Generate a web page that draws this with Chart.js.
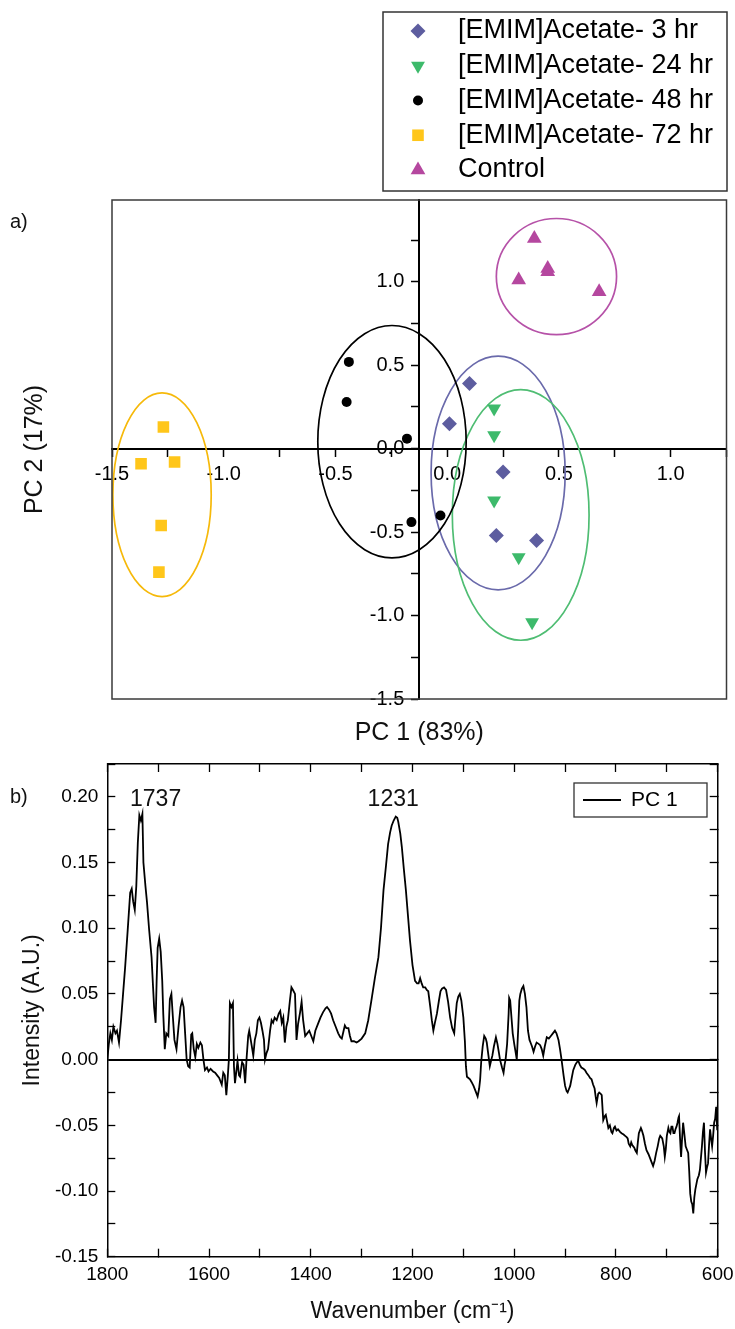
<!DOCTYPE html>
<html>
<head>
<meta charset="utf-8">
<script src="https://cdn.jsdelivr.net/npm/chart.js@4.4.1/dist/chart.umd.min.js"></script>
<style>
html, body { margin: 0; padding: 0; background: #ffffff; }
#wrap { position: relative; width: 735px; height: 1329px; overflow: hidden; }
canvas { position: absolute; left: 0; }
#pca { top: 0; }
#spec { top: 750px; }
</style>
</head>
<body>
<div id="wrap">
  <canvas id="pca" width="735" height="750"></canvas>
  <canvas id="spec" width="735" height="579"></canvas>
</div>
<script>
// ---------------- Panel a) PCA scores ----------------
const groupLabels = ['[EMIM]Acetate- 3 hr', '[EMIM]Acetate- 24 hr', '[EMIM]Acetate- 48 hr', '[EMIM]Acetate- 72 hr', 'Control'];

const pc1_3hr  = [0.10, 0.01, 0.25, 0.22, 0.40];
const pc2_3hr  = [0.39, 0.15, -0.14, -0.52, -0.55];
const pc1_24hr = [0.21, 0.21, 0.21, 0.32, 0.38];
const pc2_24hr = [0.24, 0.08, -0.31, -0.65, -1.04];
const pc1_48hr = [-0.44, -0.45, -0.18, -0.16, -0.03];
const pc2_48hr = [0.52, 0.28, 0.06, -0.44, -0.40];
const pc1_72hr = [-1.27, -1.37, -1.22, -1.28, -1.29];
const pc2_72hr = [0.13, -0.09, -0.08, -0.46, -0.74];
const pc1_ctrl = [0.39, 0.32, 0.45, 0.45, 0.68];
const pc2_ctrl = [1.26, 1.01, 1.08, 1.06, 0.94];

// confidence ellipses (data units), same group order
const ellipseCenterPC1 = [0.228, 0.329, -0.247, -1.276, 0.489];
const ellipseCenterPC2 = [-0.146, -0.397, 0.042, -0.276, 1.031];
const ellipseHalfPC1   = [0.300, 0.306, 0.332, 0.220, 0.269];
const ellipseHalfPC2   = [0.700, 0.751, 0.696, 0.610, 0.348];

// ---------------- Panel b) PC 1 loading ----------------
const wavenumbers = [
  1800,1797,1794,1791,1788,1784,1781,1777,1773,1769,
  1765,1760,1755,1752,1749,1746,1743,1740,1737,1734,
  1731,1729,1725,1722,1718,1713,1710,1708,1705,1703,
  1701,1698,1695,1692,1690,1687,1684,1680,1677,1674,
  1671,1668,1664,1660,1656,1653,1650,1647,1644,1641,
  1638,1635,1633,1630,1627,1624,1621,1617,1614,1611,
  1608,1604,1601,1597,1592,1588,1584,1580,1577,1575,
  1572,1569,1566,1563,1561,1559,1556,1553,1551,1549,
  1546,1544,1541,1539,1535,1532,1529,1526,1523,1521,
  1518,1515,1513,1510,1507,1504,1501,1498,1495,1492,
  1490,1487,1484,1480,1477,1474,1471,1467,1463,1460,
  1457,1454,1451,1448,1445,1441,1438,1435,1431,1428,
  1425,1421,1418,1415,1411,1407,1403,1399,1395,1391,
  1386,1381,1376,1371,1368,1364,1360,1356,1351,1346,
  1342,1339,1336,1333,1330,1326,1323,1320,1315,1310,
  1306,1300,1293,1287,1280,1274,1267,1262,1257,1252,
  1248,1244,1241,1237,1233,1230,1228,1224,1221,1217,
  1213,1209,1205,1200,1195,1191,1188,1185,1182,1179,
  1175,1172,1169,1165,1162,1159,1156,1152,1148,1145,
  1142,1138,1134,1130,1126,1122,1118,1116,1113,1110,
  1107,1104,1100,1097,1095,1093,1090,1087,1084,1080,
  1076,1072,1069,1067,1065,1062,1059,1056,1054,1051,
  1048,1045,1043,1040,1036,1033,1030,1028,1024,1021,
  1019,1017,1014,1011,1010,1008,1005,1003,1000,997,
  995,992,990,988,985,982,979,976,973,970,
  968,965,962,959,956,952,949,946,943,940,
  936,932,928,924,920,917,913,910,907,903,
  900,897,895,892,890,887,884,880,877,874,
  871,868,864,861,858,854,851,848,845,842,
  840,838,835,833,830,828,826,825,822,820,
  817,815,812,809,807,804,802,799,796,792,
  789,785,782,779,777,775,772,770,768,766,
  764,762,759,757,755,753,751,749,746,743,
  740,736,733,730,727,724,721,718,715,713,
  711,709,706,704,702,700,697,695,693,691,
  689,687,685,683,681,679,677,676,674,672,
  670,668,666,663,661,658,656,654,652,650,
  648,646,644,642,640,637,635,633,631,629,
  627,625,623,621,619,617,615,613,611,609,
  607,605,603,601,600
];
const pc1Loading = [
  0.000,0.012,0.020,0.015,0.025,0.020,0.022,0.013,0.030,0.050,
  0.070,0.098,0.127,0.130,0.120,0.114,0.132,0.165,0.186,0.182,
  0.187,0.150,0.132,0.120,0.100,0.078,0.055,0.040,0.028,0.060,
  0.085,0.092,0.082,0.060,0.035,0.008,0.020,0.018,0.046,0.050,
  0.032,0.015,0.008,0.025,0.040,0.045,0.040,0.020,0.000,-0.005,
  -0.006,0.019,0.020,0.008,0.002,0.012,0.009,0.013,0.011,0.000,
  -0.008,-0.006,-0.009,-0.007,-0.009,-0.010,-0.012,-0.014,-0.017,-0.019,
  -0.010,-0.012,-0.027,-0.012,0.000,0.043,0.040,0.043,-0.005,-0.018,
  -0.008,-0.001,-0.012,-0.013,-0.002,-0.004,-0.018,0.002,0.018,0.022,
  0.015,0.008,0.003,0.015,0.020,0.030,0.032,0.028,0.022,0.015,
  0.000,0.005,0.008,0.022,0.030,0.028,0.032,0.030,0.035,0.037,
  0.028,0.032,0.013,0.025,0.030,0.045,0.055,0.053,0.050,0.015,
  0.027,0.036,0.044,0.030,0.018,0.020,0.022,0.018,0.014,0.022,
  0.027,0.032,0.036,0.039,0.040,0.038,0.035,0.030,0.025,0.020,
  0.017,0.016,0.021,0.026,0.024,0.024,0.018,0.014,0.014,0.013,
  0.014,0.016,0.020,0.030,0.047,0.062,0.078,0.100,0.129,0.148,
  0.164,0.173,0.178,0.182,0.185,0.184,0.181,0.172,0.162,0.145,
  0.129,0.110,0.091,0.072,0.060,0.058,0.058,0.062,0.058,0.055,
  0.055,0.053,0.052,0.040,0.030,0.022,0.028,0.035,0.045,0.052,
  0.054,0.055,0.053,0.044,0.032,0.024,0.020,0.030,0.043,0.048,
  0.050,0.045,0.032,0.014,-0.005,-0.013,-0.014,-0.015,-0.017,-0.020,
  -0.024,-0.028,-0.022,-0.015,-0.002,0.010,0.018,0.016,0.013,0.004,
  -0.005,0.000,0.003,0.010,0.017,0.012,0.005,0.000,-0.006,-0.010,
  -0.004,0.000,0.012,0.035,0.047,0.045,0.030,0.020,0.012,0.005,
  0.000,0.025,0.045,0.050,0.054,0.056,0.050,0.040,0.022,0.015,
  0.013,0.010,0.006,0.010,0.013,0.012,0.011,0.008,0.003,0.010,
  0.017,0.016,0.018,0.020,0.022,0.020,0.015,0.008,0.000,-0.012,
  -0.020,-0.024,-0.025,-0.022,-0.020,-0.014,-0.008,-0.004,-0.002,-0.001,
  -0.004,-0.006,-0.007,-0.008,-0.010,-0.012,-0.014,-0.015,-0.019,-0.022,
  -0.028,-0.033,-0.026,-0.025,-0.026,-0.027,-0.040,-0.046,-0.043,-0.042,
  -0.048,-0.052,-0.050,-0.055,-0.056,-0.052,-0.051,-0.054,-0.053,-0.055,
  -0.056,-0.057,-0.058,-0.059,-0.060,-0.064,-0.066,-0.063,-0.065,-0.066,
  -0.067,-0.069,-0.071,-0.063,-0.056,-0.054,-0.052,-0.054,-0.058,-0.064,
  -0.069,-0.072,-0.075,-0.078,-0.081,-0.077,-0.071,-0.066,-0.060,-0.058,
  -0.059,-0.060,-0.066,-0.074,-0.068,-0.058,-0.052,-0.055,-0.056,-0.051,
  -0.051,-0.056,-0.056,-0.053,-0.051,-0.048,-0.044,-0.043,-0.060,-0.074,
  -0.060,-0.048,-0.055,-0.066,-0.068,-0.071,-0.085,-0.102,-0.108,-0.110,
  -0.117,-0.105,-0.099,-0.095,-0.091,-0.088,-0.084,-0.075,-0.066,-0.055,
  -0.048,-0.070,-0.086,-0.082,-0.079,-0.065,-0.053,-0.060,-0.066,-0.058,
  -0.048,-0.045,-0.036,-0.053,-0.035
];
const spectrumLabel = 'PC 1';
const peakTexts = ['1737', '1231'];

// ---------------- styling ----------------
const FONT = '"Liberation Sans", Arial, Helvetica, sans-serif';
const f = (size) => size + 'px ' + FONT;
Chart.defaults.font.family = FONT;
Chart.defaults.color = '#000';

const isMult = (v, s) => Math.abs(v / s - Math.round(v / s)) < 1e-6;
const noPad = (s) => { s.paddingTop = 0; s.paddingBottom = 0; s.paddingLeft = 0; s.paddingRight = 0; };

const groupStyles = [
  { shape: 'rectRot',  rot: 0,   r: 7.5, fill: '#5d5d9f', ring: '#6a6aab' },
  { shape: 'triangle', rot: 180, r: 8,   fill: '#3dba6b', ring: '#4fbd73' },
  { shape: 'circle',   rot: 0,   r: 5,   fill: '#000000', ring: '#000000' },
  { shape: 'rect',     rot: 0,   r: 8.2, fill: '#ffc61a', ring: '#f6b90a' },
  { shape: 'triangle', rot: 0,   r: 8.5, fill: '#b5479f', ring: '#b652a8' }
];
const groupPC1 = [pc1_3hr, pc1_24hr, pc1_48hr, pc1_72hr, pc1_ctrl];
const groupPC2 = [pc2_3hr, pc2_24hr, pc2_48hr, pc2_72hr, pc2_ctrl];

// ---------------- plugins ----------------
function makeEllipsePlugin() {
  return {
    id: 'groupEllipses',
    beforeDatasetsDraw(chart) {
      const { ctx, chartArea, scales } = chart;
      const xs = scales.x, ys = scales.y;
      ctx.save();
      ctx.beginPath();
      ctx.rect(chartArea.left, chartArea.top, chartArea.right - chartArea.left, chartArea.bottom - chartArea.top);
      ctx.clip();
      for (let i = 0; i < ellipseCenterPC1.length; i++) {
        const cx = xs.getPixelForValue(ellipseCenterPC1[i]);
        const cy = ys.getPixelForValue(ellipseCenterPC2[i]);
        const rx = Math.abs(xs.getPixelForValue(ellipseCenterPC1[i] + ellipseHalfPC1[i]) - cx);
        const ry = Math.abs(ys.getPixelForValue(ellipseCenterPC2[i] + ellipseHalfPC2[i]) - cy);
        ctx.beginPath();
        ctx.ellipse(cx, cy, rx, ry, 0, 0, Math.PI * 2);
        ctx.strokeStyle = groupStyles[i].ring;
        ctx.lineWidth = 1.7;
        ctx.stroke();
      }
      ctx.restore();
    }
  };
}

function makeFramePlugin(color, width) {
  return {
    id: 'plotFrame',
    afterDraw(chart) {
      const { ctx, chartArea } = chart;
      ctx.save();
      ctx.strokeStyle = color;
      ctx.lineWidth = width;
      ctx.strokeRect(chartArea.left, chartArea.top, chartArea.right - chartArea.left, chartArea.bottom - chartArea.top);
      ctx.restore();
    }
  };
}

function makeBoxLegend(cfg) {
  return {
    id: 'boxLegend',
    afterDraw(chart) {
      const ctx = chart.ctx;
      ctx.save();
      ctx.fillStyle = '#ffffff';
      ctx.fillRect(cfg.left, cfg.top, cfg.width, cfg.height);
      ctx.strokeStyle = cfg.borderColor;
      ctx.lineWidth = cfg.borderWidth;
      ctx.strokeRect(cfg.left, cfg.top, cfg.width, cfg.height);
      ctx.font = cfg.font;
      ctx.textAlign = 'left';
      ctx.textBaseline = 'middle';
      chart.data.datasets.forEach((ds, i) => {
        const y = cfg.top + cfg.firstRow + i * cfg.rowGap;
        if (cfg.sample === 'line') {
          ctx.strokeStyle = ds.borderColor;
          ctx.lineWidth = ds.borderWidth;
          ctx.beginPath();
          ctx.moveTo(cfg.sampleX0, y);
          ctx.lineTo(cfg.sampleX1, y);
          ctx.stroke();
        } else {
          ctx.fillStyle = ds.pointBackgroundColor;
          Chart.helpers.drawPoint(ctx, {
            pointStyle: ds.pointStyle, rotation: ds.pointRotation || 0,
            radius: ds.pointRadius, borderWidth: 0
          }, cfg.markerX, y);
        }
        ctx.fillStyle = '#000';
        ctx.fillText(ds.label, cfg.textX, y);
      });
      ctx.restore();
    }
  };
}

function makeTextPlugin(items) {
  return {
    id: 'panelText',
    afterDraw(chart) {
      const ctx = chart.ctx;
      ctx.save();
      items.forEach(it => {
        let x = it.px, y = it.py;
        if (it.atValue) {
          x = chart.scales.x.getPixelForValue(it.atValue[0]);
          y = chart.scales.y.getPixelForValue(it.atValue[1]);
        }
        ctx.font = it.font;
        ctx.fillStyle = '#111';
        ctx.textAlign = it.align || 'left';
        ctx.textBaseline = 'middle';
        ctx.fillText(it.text, x, y);
      });
      ctx.restore();
    }
  };
}

// ---------------- chart a) ----------------
const pcaYTicks = {
  stepSize: 0.25, includeBounds: false, autoSkip: false,
  font: { size: 20 }, color: '#000',
  callback: (v) => isMult(v, 0.5) ? Number(v).toFixed(1) : ''
};
new Chart(document.getElementById('pca'), {
  type: 'scatter',
  data: {
    datasets: groupLabels.map((label, i) => ({
      label: label,
      data: groupPC1[i].map((v, j) => ({ x: v, y: groupPC2[i][j] })),
      xAxisID: 'x',
      yAxisID: 'y',
      pointStyle: groupStyles[i].shape,
      pointRotation: groupStyles[i].rot,
      pointRadius: groupStyles[i].r,
      pointHoverRadius: groupStyles[i].r,
      pointBackgroundColor: groupStyles[i].fill,
      pointBorderColor: groupStyles[i].fill,
      pointBorderWidth: 0
    }))
  },
  options: {
    responsive: false,
    animation: false,
    devicePixelRatio: 1,
    events: [],
    layout: { padding: { top: 200, right: 7, bottom: 0, left: 0 } },
    plugins: { legend: { display: false }, tooltip: { enabled: false } },
    scales: {
      x: {
        type: 'linear', axis: 'x', position: { y: 0 },
        min: -1.5, max: 1.25,
        ticks: {
          stepSize: 0.25, autoSkip: false, maxRotation: 0, padding: 7,
          font: { size: 20 }, color: '#000',
          callback: (v) => isMult(v, 0.5) ? Number(v).toFixed(1) : ''
        },
        grid: { drawOnChartArea: false, drawTicks: true, tickLength: 7, tickColor: '#000', tickWidth: 1.5 },
        border: { display: true, color: '#000', width: 2 }
      },
      y: {
        type: 'linear', axis: 'y', position: { x: -0.125 },
        min: -1.5, max: 1.49,
        ticks: Object.assign({}, pcaYTicks, { display: false }),
        grid: { drawOnChartArea: false, drawTicks: true, tickLength: 7, tickColor: '#000', tickWidth: 1.5 },
        border: { display: true, color: '#000', width: 2 }
      },
      yLabels: {
        type: 'linear', axis: 'y', position: { x: -0.192 },
        min: -1.5, max: 1.49,
        ticks: pcaYTicks,
        grid: { display: false, drawTicks: false },
        border: { display: false }
      },
      xTitle: {
        type: 'linear', axis: 'x', position: 'bottom',
        afterFit: (s) => { s.height = 51; noPad(s); },
        ticks: { display: false },
        grid: { display: false, drawTicks: false },
        border: { display: false },
        title: { display: true, text: 'PC 1 (83%)', color: '#111', font: { size: 25 }, padding: { top: 19, bottom: 2 } }
      },
      yTitle: {
        type: 'linear', axis: 'y', position: 'left',
        afterFit: (s) => { s.width = 112; noPad(s); },
        ticks: { display: false },
        grid: { display: false, drawTicks: false },
        border: { display: false },
        title: { display: true, text: 'PC 2 (17%)', color: '#111', font: { size: 25 }, padding: { top: 20, bottom: 62 } }
      }
    }
  },
  plugins: [
    makeEllipsePlugin(),
    makeFramePlugin('#3a3a3a', 1.5),
    makeBoxLegend({
      left: 383, top: 12, width: 344, height: 179,
      firstRow: 19, rowGap: 34.75, markerX: 418, textX: 458,
      font: f(27), borderColor: '#333', borderWidth: 1.5
    }),
    makeTextPlugin([{ text: 'a)', px: 10, py: 222, font: f(20) }])
  ]
});

// ---------------- chart b) ----------------
const inwardTick = { drawOnChartArea: false, drawTicks: true, tickLength: -8, tickColor: '#000', tickWidth: 1.3 };
new Chart(document.getElementById('spec'), {
  type: 'line',
  data: {
    datasets: [{
      label: spectrumLabel,
      data: wavenumbers.map((w, i) => ({ x: w, y: pc1Loading[i] })),
      xAxisID: 'x', yAxisID: 'y',
      borderColor: '#000', borderWidth: 1.8,
      pointRadius: 0, tension: 0, fill: false
    }]
  },
  options: {
    responsive: false,
    animation: false,
    devicePixelRatio: 1,
    events: [],
    layout: { padding: { top: 14, right: 17.3, bottom: 0, left: 0 } },
    plugins: { legend: { display: false }, tooltip: { enabled: false } },
    scales: {
      x: {
        type: 'linear', axis: 'x', position: 'bottom',
        min: 600, max: 1800, reverse: true,
        afterFit: (s) => { s.height = 72.3; noPad(s); },
        ticks: {
          stepSize: 100, autoSkip: false, maxRotation: 0, padding: 15,
          font: { size: 19 }, color: '#000',
          callback: (v) => isMult(v, 200) ? String(Math.round(v)) : ''
        },
        grid: inwardTick,
        border: { display: true, color: '#000', width: 1.5 },
        title: { display: true, text: 'Wavenumber (cm⁻¹)', color: '#111', font: { size: 23 }, padding: { top: 10, bottom: 3.2 } }
      },
      y: {
        type: 'linear', axis: 'y', position: 'left',
        min: -0.15, max: 0.225,
        afterFit: (s) => { s.width = 107.3; noPad(s); },
        ticks: {
          stepSize: 0.025, autoSkip: false, padding: 17,
          font: { size: 19 }, color: '#000',
          callback: (v) => isMult(v, 0.05) ? Number(v).toFixed(2) : ''
        },
        grid: {
          drawOnChartArea: true, drawTicks: true, tickLength: -8, tickColor: '#000', tickWidth: 1.3,
          color: (c) => (c.tick && Math.abs(c.tick.value) < 1e-9) ? '#000' : 'rgba(0,0,0,0)',
          lineWidth: (c) => (c.tick && Math.abs(c.tick.value) < 1e-9) ? 2 : 1
        },
        border: { display: true, color: '#000', width: 1.5 },
        title: { display: true, text: 'Intensity (A.U.)', color: '#111', font: { size: 23 }, padding: { top: 19.2, bottom: 5 } }
      },
      xTop: {
        type: 'linear', axis: 'x', position: 'top',
        min: 600, max: 1800, reverse: true,
        afterFit: (s) => { s.height = 0; noPad(s); },
        ticks: { display: false, stepSize: 100 },
        grid: inwardTick,
        border: { display: true, color: '#000', width: 1.5 }
      },
      yRight: {
        type: 'linear', axis: 'y', position: 'right',
        min: -0.15, max: 0.225,
        afterFit: (s) => { s.width = 0; noPad(s); },
        ticks: { display: false, stepSize: 0.025 },
        grid: inwardTick,
        border: { display: true, color: '#000', width: 1.5 }
      }
    }
  },
  plugins: [
    makeBoxLegend({
      left: 574, top: 33, width: 133, height: 34,
      firstRow: 17, rowGap: 0, sample: 'line', sampleX0: 583, sampleX1: 621, textX: 631,
      font: f(21), borderColor: '#333', borderWidth: 1.3
    }),
    makeTextPlugin([
      { text: 'b)', px: 10, py: 47, font: f(20) },
      { text: peakTexts[0], atValue: [1705, 0.198], align: 'center', font: f(23) },
      { text: peakTexts[1], atValue: [1238, 0.198], align: 'center', font: f(23) }
    ])
  ]
});
</script>
</body>
</html>
